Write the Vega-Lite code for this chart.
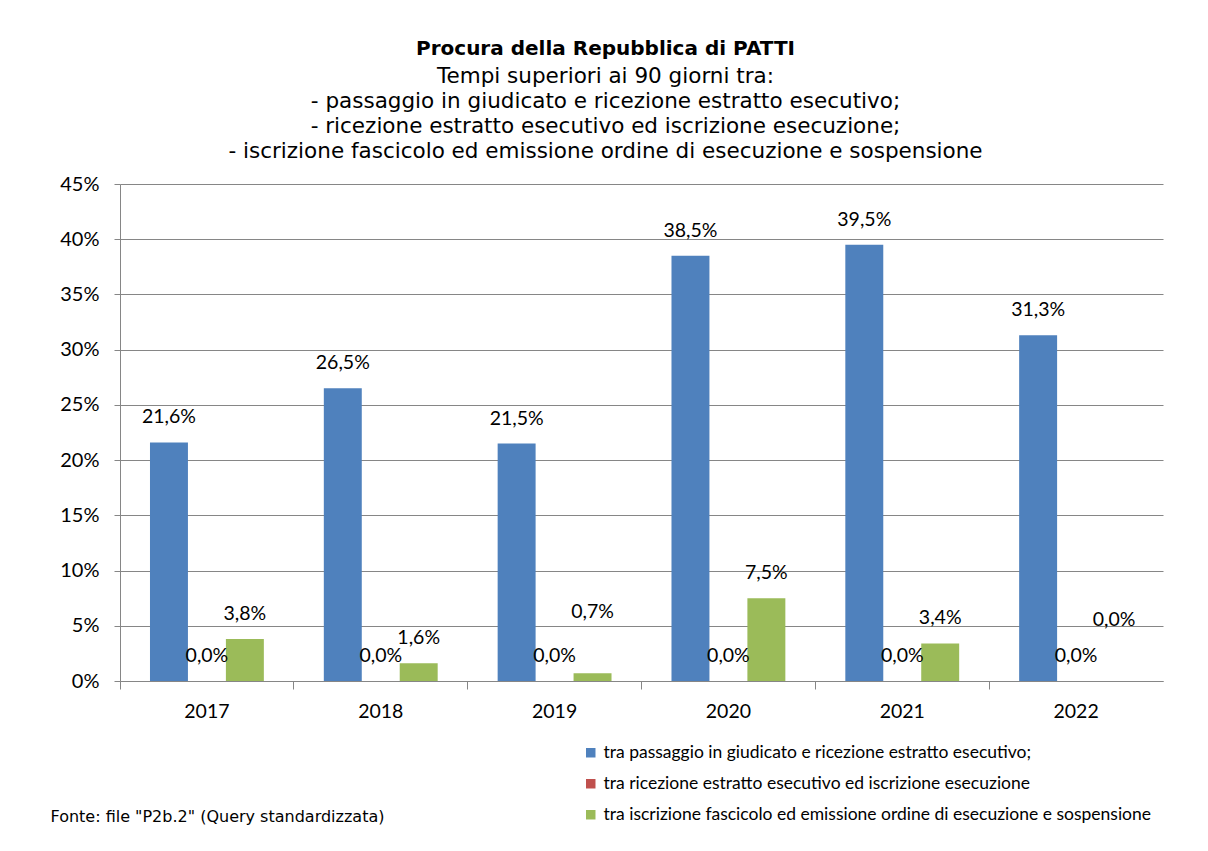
{
  "$schema": "https://vega.github.io/schema/vega-lite/v6.json",
  "width": 1043,
  "height": 497,
  "autosize": {"type": "none"},
  "padding": {"left": 120, "top": 184, "right": 45, "bottom": 170},
  "background": "white",
  "config": {
    "locale": {"number": {"decimal": ",", "thousands": ".", "grouping": [3], "currency": ["", " €"]}},
    "view": {"stroke": null},
    "font": "Lato"
  },
  "title": {
    "text": "Procura della Repubblica di PATTI",
    "subtitle": [
      "Tempi superiori ai 90 giorni tra:",
      "- passaggio in giudicato e ricezione estratto esecutivo;",
      "- ricezione estratto esecutivo ed iscrizione esecuzione;",
      "- iscrizione fascicolo ed emissione ordine di esecuzione e sospensione"
    ],
    "font": "DejaVu Sans",
    "fontSize": 20,
    "fontWeight": "bold",
    "color": "#000000",
    "subtitleFont": "DejaVu Sans",
    "subtitleFontSize": 21.5,
    "subtitleColor": "#000000",
    "subtitleLineHeight": 25,
    "subtitlePadding": 7,
    "anchor": "middle",
    "dx": -36,
    "offset": 12
  },
  "data": {
    "values": [
      {"anno": "2017", "serie": "tra passaggio in giudicato e ricezione estratto esecutivo;", "valore": 0.216},
      {"anno": "2017", "serie": "tra ricezione estratto esecutivo ed iscrizione esecuzione", "valore": 0.0},
      {"anno": "2017", "serie": "tra iscrizione fascicolo ed emissione ordine di esecuzione e sospensione", "valore": 0.038},
      {"anno": "2018", "serie": "tra passaggio in giudicato e ricezione estratto esecutivo;", "valore": 0.265},
      {"anno": "2018", "serie": "tra ricezione estratto esecutivo ed iscrizione esecuzione", "valore": 0.0},
      {"anno": "2018", "serie": "tra iscrizione fascicolo ed emissione ordine di esecuzione e sospensione", "valore": 0.016},
      {"anno": "2019", "serie": "tra passaggio in giudicato e ricezione estratto esecutivo;", "valore": 0.215},
      {"anno": "2019", "serie": "tra ricezione estratto esecutivo ed iscrizione esecuzione", "valore": 0.0},
      {"anno": "2019", "serie": "tra iscrizione fascicolo ed emissione ordine di esecuzione e sospensione", "valore": 0.007},
      {"anno": "2020", "serie": "tra passaggio in giudicato e ricezione estratto esecutivo;", "valore": 0.385},
      {"anno": "2020", "serie": "tra ricezione estratto esecutivo ed iscrizione esecuzione", "valore": 0.0},
      {"anno": "2020", "serie": "tra iscrizione fascicolo ed emissione ordine di esecuzione e sospensione", "valore": 0.075},
      {"anno": "2021", "serie": "tra passaggio in giudicato e ricezione estratto esecutivo;", "valore": 0.395},
      {"anno": "2021", "serie": "tra ricezione estratto esecutivo ed iscrizione esecuzione", "valore": 0.0},
      {"anno": "2021", "serie": "tra iscrizione fascicolo ed emissione ordine di esecuzione e sospensione", "valore": 0.034},
      {"anno": "2022", "serie": "tra passaggio in giudicato e ricezione estratto esecutivo;", "valore": 0.313},
      {"anno": "2022", "serie": "tra ricezione estratto esecutivo ed iscrizione esecuzione", "valore": 0.0},
      {"anno": "2022", "serie": "tra iscrizione fascicolo ed emissione ordine di esecuzione e sospensione", "valore": 0.0}
    ]
  },
  "encoding": {
    "x": {
      "field": "anno",
      "type": "nominal",
      "scale": {"paddingInner": 0, "paddingOuter": 0}
    },
    "xOffset": {
      "field": "serie",
      "type": "nominal",
      "sort": null,
      "scale": {
        "domain": [
          "tra passaggio in giudicato e ricezione estratto esecutivo;",
          "tra ricezione estratto esecutivo ed iscrizione esecuzione",
          "tra iscrizione fascicolo ed emissione ordine di esecuzione e sospensione"
        ],
        "paddingInner": 0,
        "paddingOuter": 0.79
      }
    },
    "y": {
      "field": "valore",
      "type": "quantitative",
      "scale": {"domain": [0, 0.45], "nice": false},
      "axis": {
        "title": null,
        "format": ".0%",
        "values": [0, 0.05, 0.1, 0.15, 0.2, 0.25, 0.3, 0.35, 0.4, 0.45],
        "grid": true,
        "gridColor": "#868686",
        "gridWidth": 1,
        "domainColor": "#868686",
        "tickColor": "#868686",
        "tickSize": 6,
        "labelPadding": 15,
        "labelFont": "Lato",
        "labelFontSize": 20,
        "labelColor": "#000000"
      }
    }
  },
  "layer": [
    {
      "mark": {"type": "bar"},
      "encoding": {
        "x": {
          "field": "anno",
          "type": "nominal",
          "axis": {
            "title": null,
            "labelAngle": 0,
            "ticks": false,
            "domainColor": "#868686",
            "labelPadding": 21,
            "labelFont": "Lato",
            "labelFontSize": 19.5,
            "labelColor": "#000000",
            "orient": "bottom"
          }
        },
        "color": {
          "field": "serie",
          "type": "nominal",
          "scale": {
            "domain": [
              "tra passaggio in giudicato e ricezione estratto esecutivo;",
              "tra ricezione estratto esecutivo ed iscrizione esecuzione",
              "tra iscrizione fascicolo ed emissione ordine di esecuzione e sospensione"
            ],
            "range": ["#4F81BD", "#C0504D", "#9BBB59"]
          },
          "legend": {
            "title": null,
            "orient": "none",
            "legendX": 462,
            "legendY": 560,
            "symbolType": "square",
            "symbolSize": 90,
            "symbolStrokeWidth": 0,
            "labelFont": "Lato",
            "labelFontSize": 17.5,
            "labelColor": "#000000",
            "labelLimit": 700,
            "labelOffset": 4,
            "rowPadding": 12
          }
        }
      }
    },
    {
      "transform": [
        {"filter": "!(datum.serie === 'tra iscrizione fascicolo ed emissione ordine di esecuzione e sospensione' && datum.valore < 0.01)"}
      ],
      "mark": {"type": "text", "baseline": "middle", "dy": -25, "font": "Lato", "fontSize": 19.5, "color": "#000000"},
      "encoding": {
        "x": {
          "field": "anno",
          "type": "nominal",
          "axis": {
            "title": "Fonte: file \"P2b.2\" (Query standardizzata)",
            "titleFont": "DejaVu Sans",
            "titleFontSize": 16,
            "titleFontWeight": "normal",
            "titleColor": "#000000",
            "titleAnchor": "start",
            "titleAlign": "left",
            "titleBaseline": "middle",
            "titleX": -70,
            "titleY": 135,
            "labels": false,
            "ticks": true,
            "tickSize": 8,
            "tickColor": "#868686",
            "bandPosition": 0,
            "domain": false,
            "orient": "bottom"
          }
        },
        "text": {"field": "valore", "type": "quantitative", "format": ".1%"}
      }
    },
    {
      "transform": [
        {"filter": "datum.serie === 'tra iscrizione fascicolo ed emissione ordine di esecuzione e sospensione' && datum.valore < 0.01"}
      ],
      "mark": {"type": "text", "baseline": "middle", "dy": -61, "font": "Lato", "fontSize": 19.5, "color": "#000000"},
      "encoding": {
        "x": {"field": "anno", "type": "nominal", "axis": null},
        "text": {"field": "valore", "type": "quantitative", "format": ".1%"}
      }
    }
  ],
  "resolve": {"axis": {"x": "independent"}}
}
